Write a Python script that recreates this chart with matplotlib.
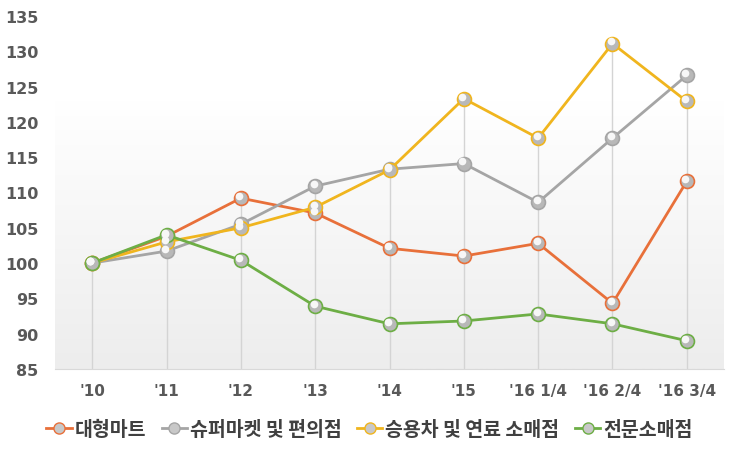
import numpy as np
import matplotlib.pyplot as plt
import matplotlib.transforms as mtransforms
from matplotlib.lines import Line2D

plt.rcParams['font.family'] = ['Noto Sans CJK KR', 'DejaVu Sans']

categories = ["'10", "'11", "'12", "'13", "'14", "'15", "'16 1/4", "'16 2/4", "'16 3/4"]
series_names = ['대형마트', '슈퍼마켓 및 편의점', '승용차 및 연료 소매점', '전문소매점']
hypermarket = [100, 103.8, 109.2, 107.1, 102.1, 101.0, 102.8, 94.3, 111.6]
supermarket = [100, 101.7, 105.5, 110.9, 113.3, 114.1, 108.6, 117.7, 126.6]
car_fuel = [100, 103.0, 105.0, 107.9, 113.2, 123.3, 117.7, 131.1, 122.9]
specialty = [100, 104.0, 100.4, 93.9, 91.4, 91.8, 92.8, 91.4, 89.0]
colors = ['#E8703A', '#A5A5A5', '#F0B51E', '#6DAE45']

all_series = [hypermarket, supermarket, car_fuel, specialty]
x = np.arange(len(categories))

fig = plt.figure(figsize=(7.39, 4.52), dpi=100)
ax = fig.add_axes([55 / 739, 82 / 452, 669 / 739, 353 / 452])
ax.set_xlim(-0.5, len(categories) - 0.5)
ax.set_ylim(85, 135)

# gradient background in the lower part of the plot area
grad = np.linspace(0, 1, 256).reshape(-1, 1)
ax.imshow(grad, extent=[0, 1, 0, 0.76], transform=ax.transAxes, aspect='auto',
          cmap=plt.matplotlib.colors.LinearSegmentedColormap.from_list('g', ['#EDEDED', '#FFFFFF']),
          origin='lower', zorder=0)

# drop lines
tops = np.max(np.array(all_series), axis=0)
ax.vlines(x, 85, tops, color='#D4D4D4', linewidth=1, zorder=1)

highlight = ax.transData + mtransforms.ScaledTranslation(-1.2 / 72, 1.5 / 72, fig.dpi_scale_trans)
for vals, c in zip(all_series, colors):
    ax.plot(x, vals, color=c, linewidth=2, zorder=2,
            marker='o', markersize=10, markerfacecolor='#B8B8B8',
            markeredgecolor=c, markeredgewidth=1.2)
    ax.plot(x, vals, linestyle='none', marker='o', markersize=5.5,
            markerfacecolor='#F7F7F7', markeredgewidth=0, transform=highlight, zorder=3)

ax.set_xticks(x)
ax.set_xticklabels(categories, fontsize=11, fontweight='bold', color='#595959', family='DejaVu Sans')
ax.set_yticks(np.arange(85, 136, 5))
ax.set_yticklabels([str(v) for v in range(85, 136, 5)], fontsize=11.5, fontweight='bold',
                   color='#595959', family='DejaVu Sans')
ax.tick_params(axis='both', length=0)
ax.tick_params(axis='x', pad=10)
ax.tick_params(axis='y', pad=12)
for s in ['top', 'right', 'left']:
    ax.spines[s].set_visible(False)
ax.spines['bottom'].set_color('#D9D9D9')

handles = [Line2D([0], [0], color=c, linewidth=2, marker='o', markersize=8,
                  markerfacecolor='#C8C8C8', markeredgecolor=c) for c in colors]
fig.legend(handles, series_names, loc='center', bbox_to_anchor=(0.5, 22 / 452), ncol=4,
           frameon=False, handlelength=1.3, handletextpad=0.15, columnspacing=0.8,
           prop={'family': 'Noto Sans CJK KR', 'weight': 'bold', 'size': 14},
           labelcolor='#404040')

fig.savefig('out.png', dpi=100)
